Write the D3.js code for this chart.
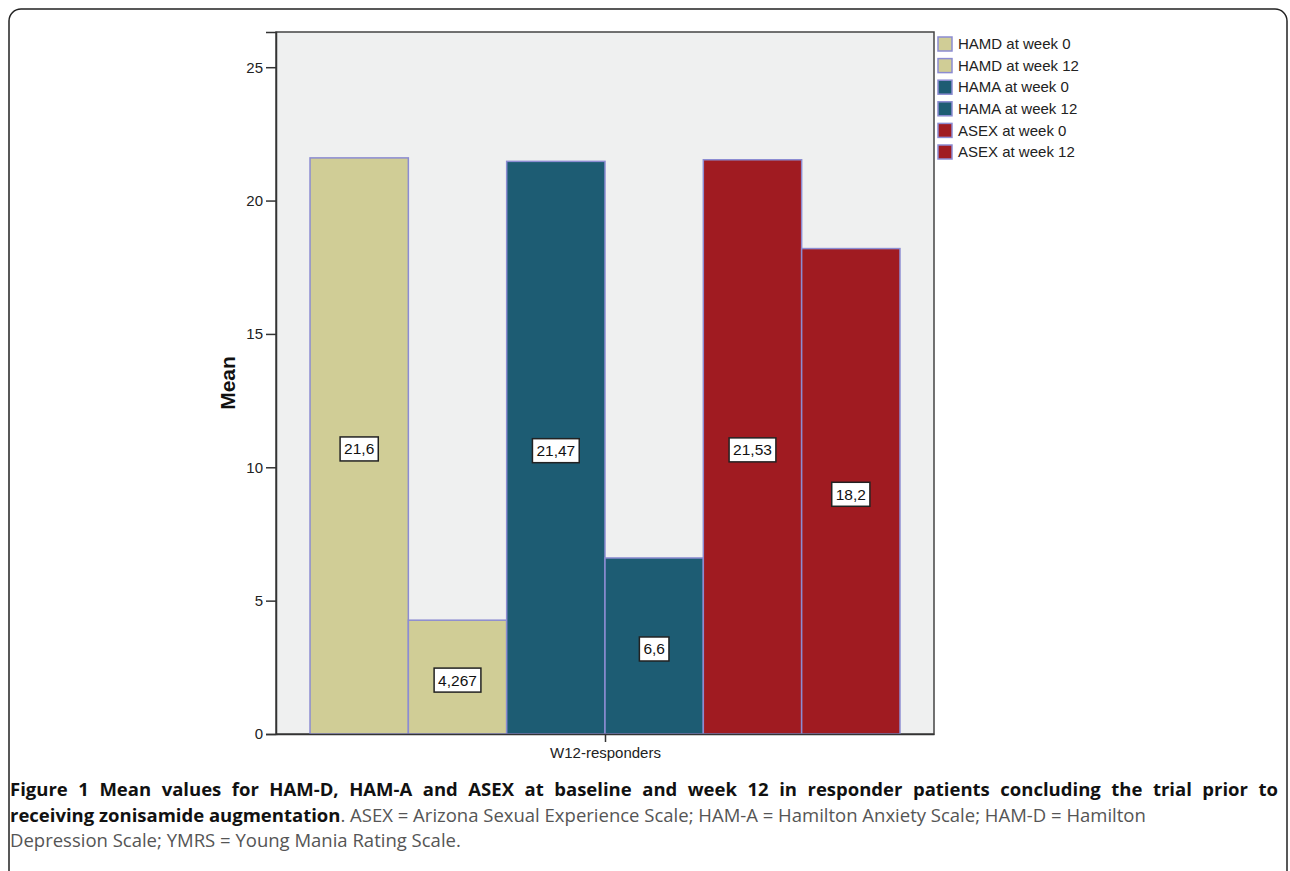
<!DOCTYPE html>
<html>
<head>
<meta charset="utf-8">
<script src="https://cdn.jsdelivr.net/npm/d3@7"></script>
<style>
  body { margin: 0; background: #fff; }
  #wrap { position: relative; width: 1290px; height: 871px; overflow: hidden; }
  svg { position: absolute; left: 0; top: 0; }
  #caption {
    position: absolute; left: 10px; top: 776px; width: 1268px;
    font-family: "Open Sans", sans-serif; font-size: 18.5px; line-height: 25.5px;
    color: #555;
  }
  #caption div { white-space: nowrap; }
  #caption .l1 { text-align: justify; text-align-last: justify; white-space: normal; }
  #caption b { color: #111; }
</style>
</head>
<body>
<div id="wrap">
<svg width="1290" height="871"></svg>
<div id="caption">
<div class="l1"><b>Figure 1 Mean values for HAM-D, HAM-A and ASEX at baseline and week 12 in responder patients concluding the trial prior to</b></div>
<div><b>receiving zonisamide augmentation</b>. ASEX = Arizona Sexual Experience Scale; HAM-A = Hamilton Anxiety Scale; HAM-D = Hamilton</div>
<div>Depression Scale; YMRS = Young Mania Rating Scale.</div>
</div>
</div>
<script>
var series = ["HAMD at week 0", "HAMD at week 12", "HAMA at week 0", "HAMA at week 12", "ASEX at week 0", "ASEX at week 12"];
var means = [21.6, 4.267, 21.47, 6.6, 21.53, 18.2];
var valueLabels = ["21,6", "4,267", "21,47", "6,6", "21,53", "18,2"];
var colors = ["#d0cd96", "#d0cd96", "#1d5c73", "#1d5c73", "#a01b21", "#a01b21"];
var yTicks = [0, 5, 10, 15, 20, 25];
var category = "W12-responders";

var svg = d3.select("svg");

// outer frame with rounded corners (open at the bottom)
svg.append("rect")
  .attr("x", 9).attr("y", 9)
  .attr("width", 1278).attr("height", 900)
  .attr("rx", 12)
  .attr("fill", "none")
  .attr("stroke", "#222")
  .attr("stroke-width", 1.5);

var plotLeft = 276, plotRight = 934, plotTop = 32, plotBottom = 734;

var y = d3.scaleLinear().domain([0, 26.32]).range([plotBottom, plotTop]);
var x = d3.scaleBand().domain(series).range([plotLeft, plotRight])
  .paddingInner(0).paddingOuter(0.346);

// plot background
svg.append("rect")
  .attr("x", plotLeft).attr("y", plotTop)
  .attr("width", plotRight - plotLeft).attr("height", plotBottom - plotTop)
  .attr("fill", "#eff0f0")
  .attr("stroke", "#444")
  .attr("stroke-width", 1.5);

var data = series.map(function(s, i) {
  return { name: s, value: means[i], label: valueLabels[i], color: colors[i] };
});

svg.selectAll(".bar")
  .data(data)
  .enter().append("rect")
  .attr("class", "bar")
  .attr("x", function(d) { return x(d.name); })
  .attr("y", function(d) { return y(d.value); })
  .attr("width", x.bandwidth())
  .attr("height", function(d) { return y(0) - y(d.value); })
  .attr("fill", function(d) { return d.color; })
  .attr("stroke", "#8c8cd2")
  .attr("stroke-width", 1.5);

// value boxes, a bit below the half height like the original
var lab = svg.selectAll(".lab")
  .data(data)
  .enter().append("g")
  .attr("class", "lab")
  .attr("transform", function(d) {
    return "translate(" + (x(d.name) + x.bandwidth() / 2) + "," + (y(d.value / 2) + 3) + ")";
  });
lab.append("text")
  .attr("text-anchor", "middle")
  .attr("dy", "0.35em")
  .style("font-family", "Arial, 'Liberation Sans', sans-serif")
  .style("font-size", "15.5px")
  .attr("fill", "#111")
  .text(function(d) { return d.label; });
lab.each(function() {
  var g = d3.select(this);
  var bb = g.select("text").node().getBBox();
  g.insert("rect", "text")
    .attr("x", bb.x - 4).attr("y", -12)
    .attr("width", bb.width + 8).attr("height", 24)
    .attr("fill", "#fff")
    .attr("stroke", "#222")
    .attr("stroke-width", 1.5);
});

// y axis
var yaxis = svg.append("g")
  .attr("transform", "translate(" + plotLeft + ",0)")
  .call(d3.axisLeft(y).tickValues(yTicks).tickSize(10).tickPadding(3).tickFormat(d3.format("d")));
yaxis.select(".domain").attr("stroke", "#333").attr("stroke-width", 1.5);
yaxis.selectAll("line").attr("stroke", "#333").attr("stroke-width", 1.5);
yaxis.selectAll("text")
  .style("font-family", "Arial, 'Liberation Sans', sans-serif")
  .style("font-size", "15px").attr("fill", "#222");

// x axis with single category tick
var xc = d3.scalePoint().domain([category]).range([plotLeft, plotRight]).padding(0.5);
var xaxis = svg.append("g")
  .attr("transform", "translate(0," + plotBottom + ")")
  .call(d3.axisBottom(xc).tickSize(8).tickPadding(5).tickSizeOuter(0));
xaxis.select(".domain").attr("stroke", "#333").attr("stroke-width", 1.5);
xaxis.selectAll("line").attr("stroke", "#333").attr("stroke-width", 1.5);
xaxis.selectAll("text")
  .style("font-family", "Arial, 'Liberation Sans', sans-serif")
  .style("font-size", "15px").attr("fill", "#222");

svg.append("text")
  .attr("transform", "translate(235," + ((plotTop + plotBottom) / 2) + ") rotate(-90)")
  .attr("text-anchor", "middle")
  .style("font-family", "Arial, 'Liberation Sans', sans-serif")
  .style("font-size", "21px")
  .style("font-weight", "bold")
  .attr("fill", "#111")
  .text("Mean");

// legend
var legend = svg.selectAll(".leg")
  .data(data)
  .enter().append("g")
  .attr("class", "leg")
  .attr("transform", function(d, i) { return "translate(938," + (44 + i * 21.6) + ")"; });
legend.append("rect")
  .attr("x", 0).attr("y", -7)
  .attr("width", 14).attr("height", 14)
  .attr("fill", function(d) { return d.color; })
  .attr("stroke", "#8c8cd2")
  .attr("stroke-width", 1.5);
legend.append("text")
  .attr("x", 20).attr("dy", "0.35em")
  .style("font-family", "Arial, 'Liberation Sans', sans-serif")
  .style("font-size", "15px")
  .attr("fill", "#222")
  .text(function(d) { return d.name; });
</script>
</body>
</html>
